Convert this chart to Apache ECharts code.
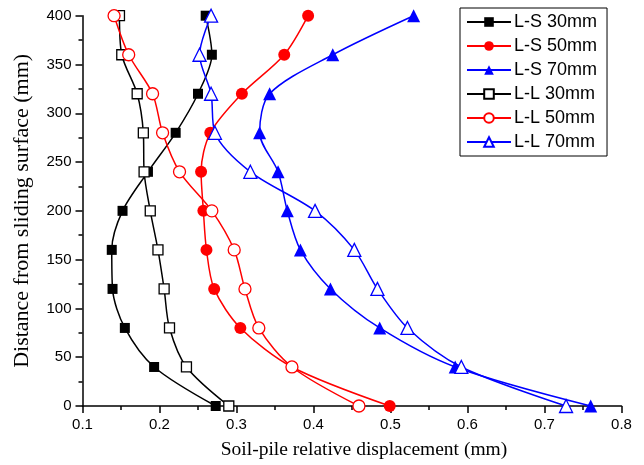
<!DOCTYPE html>
<html>
<head>
<meta charset="utf-8">
<script src="https://cdn.jsdelivr.net/npm/echarts@6/dist/echarts.min.js"></script>
<style>
  html, body { margin: 0; padding: 0; background: #fff; }
  #chart { width: 644px; height: 465px; }
</style>
</head>
<body>
<div id="chart"></div>
<script>
const depths = [0, 40, 80, 120, 160, 200, 240, 280, 320, 360, 400];
const ls30 = [0.273, 0.193, 0.155, 0.139, 0.138, 0.152, 0.185, 0.221, 0.250, 0.268, 0.260];
const ls50 = [0.499, 0.372, 0.305, 0.271, 0.261, 0.257, 0.254, 0.266, 0.307, 0.362, 0.393];
const ls70 = [0.760, 0.584, 0.486, 0.422, 0.383, 0.366, 0.354, 0.330, 0.343, 0.425, 0.530];
const ll30 = [0.290, 0.235, 0.213, 0.206, 0.198, 0.188, 0.180, 0.179, 0.171, 0.151, 0.148];
const ll50 = [0.459, 0.372, 0.329, 0.311, 0.297, 0.268, 0.226, 0.204, 0.191, 0.160, 0.141];
const ll70 = [0.728, 0.592, 0.522, 0.483, 0.453, 0.402, 0.318, 0.272, 0.267, 0.252, 0.267];

const seriesDefs = [
  { name: "L-S 30mm", values: ls30, color: "#000000", symbol: "rect", size: 10, open: false },
  { name: "L-S 50mm", values: ls50, color: "#ff0000", symbol: "circle", size: 12, open: false },
  { name: "L-S 70mm", values: ls70, color: "#0000ff", symbol: "triangle", size: 13, open: false },
  { name: "L-L 30mm", values: ll30, color: "#000000", symbol: "rect", size: 10, open: true },
  { name: "L-L 50mm", values: ll50, color: "#ff0000", symbol: "circle", size: 12, open: true },
  { name: "L-L 70mm", values: ll70, color: "#0000ff", symbol: "triangle", size: 13, open: true }
];

const chart = echarts.init(document.getElementById("chart"));

const axisCommon = {
  axisLine: { show: true, onZero: false, lineStyle: { color: "#000", width: 1.5 } },
  axisTick: { show: true, inside: false, length: 7, lineStyle: { color: "#000", width: 1.5 } },
  minorTick: { show: true, splitNumber: 2, length: 4, lineStyle: { color: "#000", width: 1.5 } },
  splitLine: { show: false },
  axisLabel: { color: "#000", fontSize: 15, fontFamily: "Liberation Sans, Arial, sans-serif" }
};

chart.setOption({
  animation: false,
  backgroundColor: "#fff",
  grid: { left: 82.5, right: 22.5, top: 15.7, bottom: 55 },
  legend: {
    orient: "vertical",
    left: 460,
    top: 8,
    padding: [5, 10, 5, 6],
    borderColor: "#000",
    borderWidth: 1,
    itemWidth: 44,
    itemHeight: 12,
    itemGap: 6,
    textStyle: { color: "#000", fontSize: 18, fontFamily: "Liberation Sans, Arial, sans-serif", padding: [0, 0, 0, -2] },
    data: seriesDefs.map((s) => s.name)
  },
  xAxis: {
    ...axisCommon,
    type: "value",
    min: 0.1,
    max: 0.8,
    interval: 0.1,
    name: "Soil-pile relative displacement (mm)",
    nameLocation: "middle",
    nameGap: 34,
    nameTextStyle: { color: "#000", fontSize: 19.5, fontFamily: "Liberation Serif, Times New Roman, serif", padding: [0, 0, 0, 24] },
    axisLabel: { ...axisCommon.axisLabel, margin: 11, formatter: (v) => v.toFixed(1) }
  },
  yAxis: {
    ...axisCommon,
    type: "value",
    min: 0,
    max: 400,
    interval: 50,
    name: "Distance from sliding surface (mm)",
    nameLocation: "middle",
    nameGap: 49,
    nameTextStyle: { color: "#000", fontSize: 22, fontFamily: "Liberation Serif, Times New Roman, serif" },
    axisLabel: { ...axisCommon.axisLabel, margin: 11 }
  },
  series: seriesDefs.map((s) => ({
    name: s.name,
    type: "line",
    smooth: 0.3,
    symbol: s.symbol,
    symbolSize: s.size,
    showAllSymbol: true,
    data: s.values.map((v, i) => [v, depths[i]]),
    lineStyle: { color: s.color, width: 1.5 },
    itemStyle: s.open
      ? { color: "#fff", borderColor: s.color, borderWidth: 1.3 }
      : { color: s.color, borderColor: s.color, borderWidth: 0 }
  }))
});
</script>
</body>
</html>
